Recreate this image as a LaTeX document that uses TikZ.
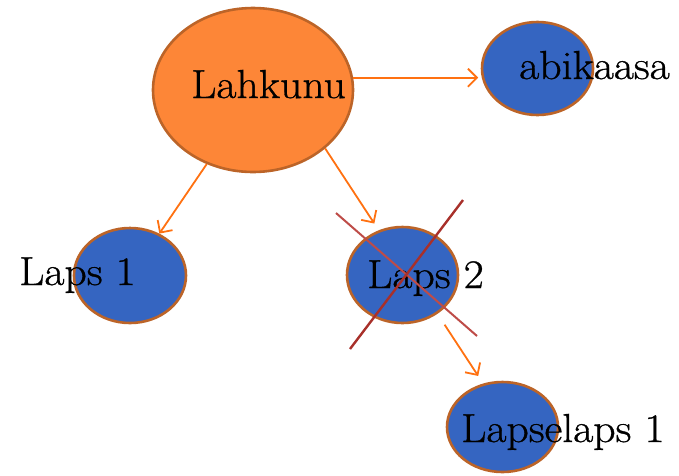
\documentclass[tikz,border=0pt]{standalone}
\usepackage{fontspec}
\newfontfamily\lblfont{Latin Modern Roman}[FakeStretch=1.08, FakeBold=0.8]
\usetikzlibrary{shapes.geometric,arrows.meta}
\definecolor{orfill}{HTML}{FD8637}
\definecolor{rim}{HTML}{BC6428}
\definecolor{bluefill}{HTML}{3565C1}
\definecolor{arrcol}{HTML}{FF7111}
\definecolor{crossA}{HTML}{A8302A}
\definecolor{crossB}{HTML}{BE4C48}
\tikzset{
  x=1pt, y=-1pt,
  oval/.style={ellipse, draw=rim, line width=2.6pt, inner sep=0pt},
  orangeoval/.style={oval, fill=orfill},
  blueoval/.style={oval, fill=bluefill},
  lbl/.style={inner sep=0pt, anchor=base west, font=\lblfont\fontsize{40.5}{48}\selectfont},
  arr/.style={draw=arrcol, line width=1.8pt, -{Straight Barb[length=9pt,width=18pt]}},
}
\begin{document}
\begin{tikzpicture}
\useasboundingbox (0,0) rectangle (679,475);
% ovals
\node[orangeoval, minimum width=200pt, minimum height=164pt] (lah) at (253,90) {};
\node[blueoval, minimum width=111pt, minimum height=93pt] (abi) at (537.5,68.5) {};
\node[blueoval, minimum width=112pt, minimum height=95pt] (l1) at (130,275.5) {};
\node[blueoval, minimum width=111pt, minimum height=96pt] (l2) at (402.5,275) {};
\node[blueoval, minimum width=111pt, minimum height=90pt] (ll1) at (502.5,427) {};
% labels
\node[lbl] (tlah) at (191,98) {Lahkunu};
\node[lbl] (tabi) at (519,79) {abikaasa};
\node[lbl] (tl1) at (19,285) {Laps 1};
\node[lbl] (tl2) at (367,288) {Laps 2};
\node[lbl] (tll1) at (461,442) {Lapselaps 1};
% connectors
\draw[arr, shorten >=2.5pt] (lah.7.5) -- (lah.7.5 -| abi.west);
\draw[arr] (lah.238.4) -- (l1.55.3);
\draw[arr, shorten >=8pt] (lah.321) -- (l2.118.8);
\draw[arr, shorten <=13pt, shorten >=9pt] (l2.312.8) -- (ll1.114.2);
% cross-out lines
\coordinate (ca1) at (463,200);
\coordinate (ca2) at (350,349);
\coordinate (cb1) at (336,213);
\coordinate (cb2) at (477,336);
\draw[crossB, line width=2pt] (cb1) -- (cb2);
\draw[crossA, line width=2.4pt] (ca1) -- (ca2);
\end{tikzpicture}
\end{document}
